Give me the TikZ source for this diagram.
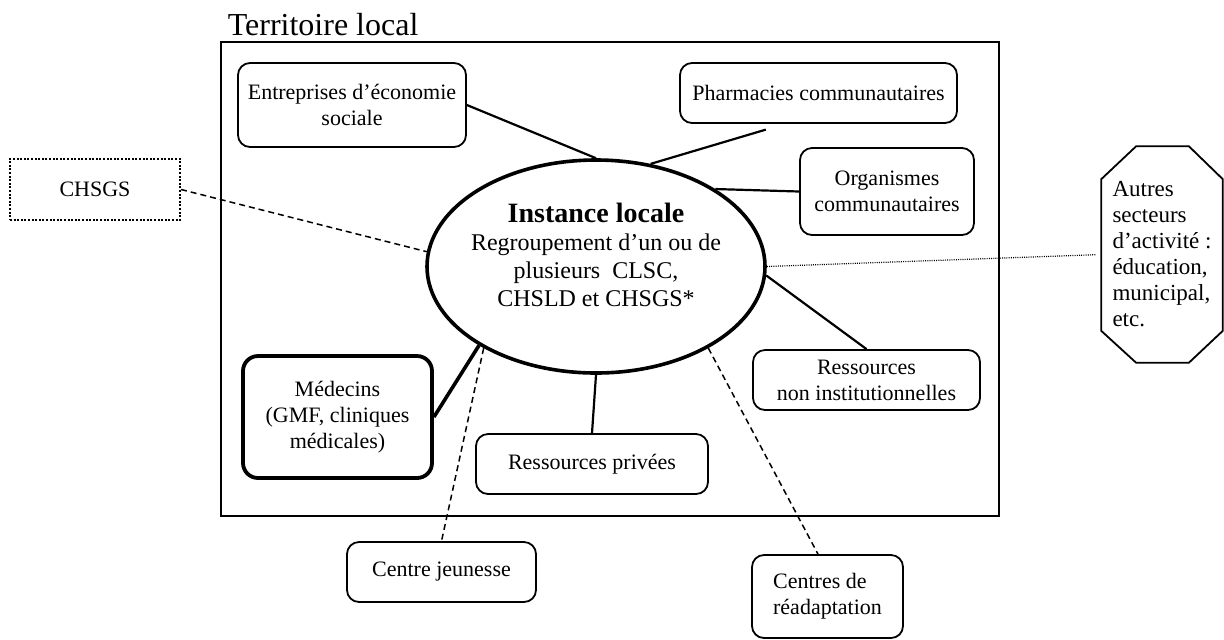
\documentclass[tikz,border=0pt]{standalone}
\usepackage{fontspec}
\setmainfont{Liberation Serif}
\usetikzlibrary{calc,shapes.geometric}

\begin{document}
\begin{tikzpicture}[x=0.5pt, y=-0.5pt, thick,
		boite/.style={draw, rounded corners=6pt, line width=0.9pt, inner sep=0pt, align=center, font=\fontsize{11}{13}\selectfont},
		lien/.style={line width=1.1pt},
		tirets/.style={line width=0.75pt, dash pattern=on 3pt off 2pt},
		points/.style={line width=0.6pt, dash pattern=on 0.5pt off 0.6pt}]
		\useasboundingbox (0,0) rectangle (1224,639);
		
		\node[anchor=base west, inner sep=0pt, font=\fontsize{16}{18}\selectfont] (titre) at (227,35) {Territoire local};
		\draw[line width=0.9pt] (221,42) rectangle (999,516);
		
		\node[draw, ellipse, line width=1.8pt, minimum width=169pt, minimum height=106.5pt, inner sep=0pt] (instance) at (596,266.5) {};
		\node[align=center, font=\fontsize{12}{14}\selectfont] (instancetxt) at ([yshift=6pt]instance.center) {{\fontsize{14}{14}\selectfont\textbf{Instance locale}}\\Regroupement d’un ou de\\plusieurs~~CLSC,\\CHSLD et CHSGS*};
		
		\node[boite, minimum width=114pt, minimum height=42pt] (entreprises) at (352,105) {Entreprises d’économie\\sociale};
		\node[boite, minimum width=138.5pt, minimum height=30pt] (pharmacies) at (818.5,93) {Pharmacies communautaires};
		\node[boite, minimum width=87pt, minimum height=43.5pt] (organismes) at (887,191.5) {Organismes\\communautaires};
		\node[boite, minimum width=113.5pt, minimum height=30pt] (ressnon) at (866.5,380) {Ressources\\non institutionnelles};
		\node[boite, minimum width=116pt, minimum height=30pt] (privees) at (592,464) {Ressources privées};
		\node[boite, line width=1.9pt, rounded corners=7.5pt, minimum width=94.5pt, minimum height=61pt] (medecins) at (337.5,417) {Médecins\\(GMF, cliniques\\médicales)};
		\node[boite, minimum width=94.5pt, minimum height=30pt] (jeunesse) at (441.5,572) {Centre jeunesse};
		\node[boite, align=left, minimum width=75.5pt, minimum height=41.5pt] (readapt) at (827.5,596.5) {Centres de\\réadaptation};
		\node[draw, line width=1pt, dash pattern=on 1pt off 0.8pt, inner sep=0pt, minimum width=85pt, minimum height=30.5pt, font=\fontsize{11}{13}\selectfont] (chsgs) at (95,189.5) {CHSGS};
		
		\node[inner sep=0pt, minimum width=60pt, minimum height=107.5pt] (autres) at (1162,254.5) {};
		\draw[line width=0.9pt] ($(autres.north west)+(35,0)$) -- ($(autres.north east)+(-34,0)$) -- ($(autres.north east)+(0,33)$) -- ($(autres.south east)+(0,-32)$) -- ($(autres.south east)+(-34,0)$) -- ($(autres.south west)+(35,0)$) -- ($(autres.south west)+(0,-32)$) -- ($(autres.north west)+(0,33)$) -- cycle;
		\node[align=left, font=\fontsize{11.5}{13}\selectfont] (autrestxt) at (autres.center) {Autres\\secteurs\\d’activité :\\éducation,\\municipal,\\etc.};
		
		\draw[lien] (entreprises.east) -- (instance.north);
		\draw[lien, shorten >=10pt] (instance.62) -- ([xshift=-16.75pt]pharmacies.south);
		\draw[lien] (instance.33) -- (organismes.west);
		\draw[lien] (instance.-3) -- (ressnon.north);
		\draw[lien] (instance.south) -- (privees.north);
		\draw[lien, line width=1.8pt] (instance.214) -- (medecins.east);
		\draw[tirets] (instance.216) -- (jeunesse.north);
		\draw[tirets] (instance.-36) -- ([xshift=-4.75pt]readapt.north);
		\draw[tirets] (chsgs.east) -- (instance.175);
		\draw[points, shorten >=2.5pt] (instance.east) -- (autres.west);
	\end{tikzpicture}
\end{document}
